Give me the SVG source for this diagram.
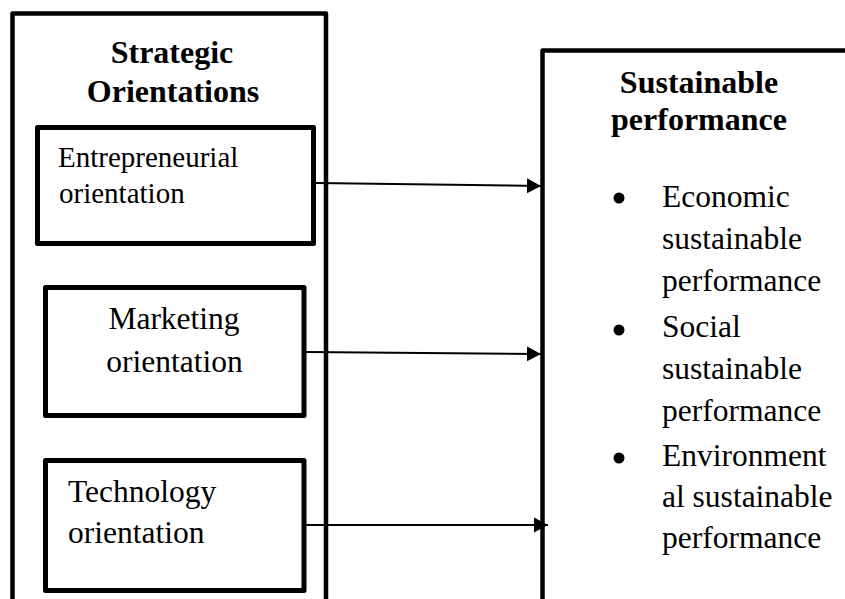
<svg xmlns="http://www.w3.org/2000/svg" width="845" height="599" viewBox="0 0 845 599">
  <style>
    .frame { fill: none; stroke: #000; stroke-width: 4.5; stroke-linejoin: round; }
    .box { fill: #fff; stroke: #000; stroke-width: 5; stroke-linejoin: round; }
    .title { font-family: "Liberation Serif", "Times New Roman", serif; font-weight: bold; font-size: 32px; fill: #000; }
    .label { font-family: "Liberation Serif", "Times New Roman", serif; font-size: 31.5px; fill: #000; }
    .small { font-size: 29px; }
    .link { stroke: #000; stroke-width: 2; fill: none; }
  </style>
  <defs>
    <marker id="arrow" markerWidth="15" markerHeight="16" refX="14" refY="8" orient="auto" markerUnits="userSpaceOnUse">
      <path d="M0,0.5 L14,8 L0,15.5 Z" fill="#000"/>
    </marker>
  </defs>
  <rect width="845" height="599" fill="#fff"/>

  <!-- Strategic orientations container -->
  <g id="strategic-orientations">
    <rect class="frame" x="12.5" y="13.5" width="313.5" height="620"/>
    <text class="title" x="172" y="63" text-anchor="middle">Strategic</text>
    <text class="title" x="173" y="102" text-anchor="middle">Orientations</text>
  </g>

  <g id="entrepreneurial-orientation">
    <rect class="box" x="37.5" y="127.5" width="276" height="116"/>
    <text class="label small" x="58" y="167">Entrepreneurial</text>
    <text class="label small" x="59" y="203">orientation</text>
  </g>

  <g id="marketing-orientation">
    <rect class="box" x="45.5" y="287.5" width="258.5" height="128"/>
    <text class="label" x="174" y="329" text-anchor="middle">Marketing</text>
    <text class="label" x="174.5" y="372" text-anchor="middle">orientation</text>
  </g>

  <g id="technology-orientation">
    <rect class="box" x="45.5" y="460.5" width="258.5" height="130"/>
    <text class="label" x="68" y="502">Technology</text>
    <text class="label" x="68" y="543">orientation</text>
  </g>

  <!-- Sustainable performance container -->
  <g id="sustainable-performance">
    <rect class="frame" x="542.5" y="50.5" width="330" height="600"/>
    <text class="title" x="699" y="93" text-anchor="middle">Sustainable</text>
    <text class="title" x="699" y="130" text-anchor="middle">performance</text>
    <circle cx="619" cy="198" r="5.5"/>
    <circle cx="619" cy="330" r="5.5"/>
    <circle cx="619" cy="458" r="5.5"/>
    <text class="label" x="662" y="207">Economic</text>
    <text class="label" x="662" y="249">sustainable</text>
    <text class="label" x="662" y="291">performance</text>
    <text class="label" x="662" y="337">Social</text>
    <text class="label" x="662" y="379">sustainable</text>
    <text class="label" x="662" y="421">performance</text>
    <text class="label" x="662" y="466">Environment</text>
    <text class="label" x="662" y="507">al sustainable</text>
    <text class="label" x="662" y="548">performance</text>
  </g>

  <!-- Connectors -->
  <g id="connectors">
    <line class="link" x1="316" y1="183" x2="541" y2="186" marker-end="url(#arrow)"/>
    <line class="link" x1="306" y1="352" x2="541" y2="354" marker-end="url(#arrow)"/>
    <line class="link" x1="306" y1="525" x2="548" y2="525" marker-end="url(#arrow)"/>
  </g>
</svg>
